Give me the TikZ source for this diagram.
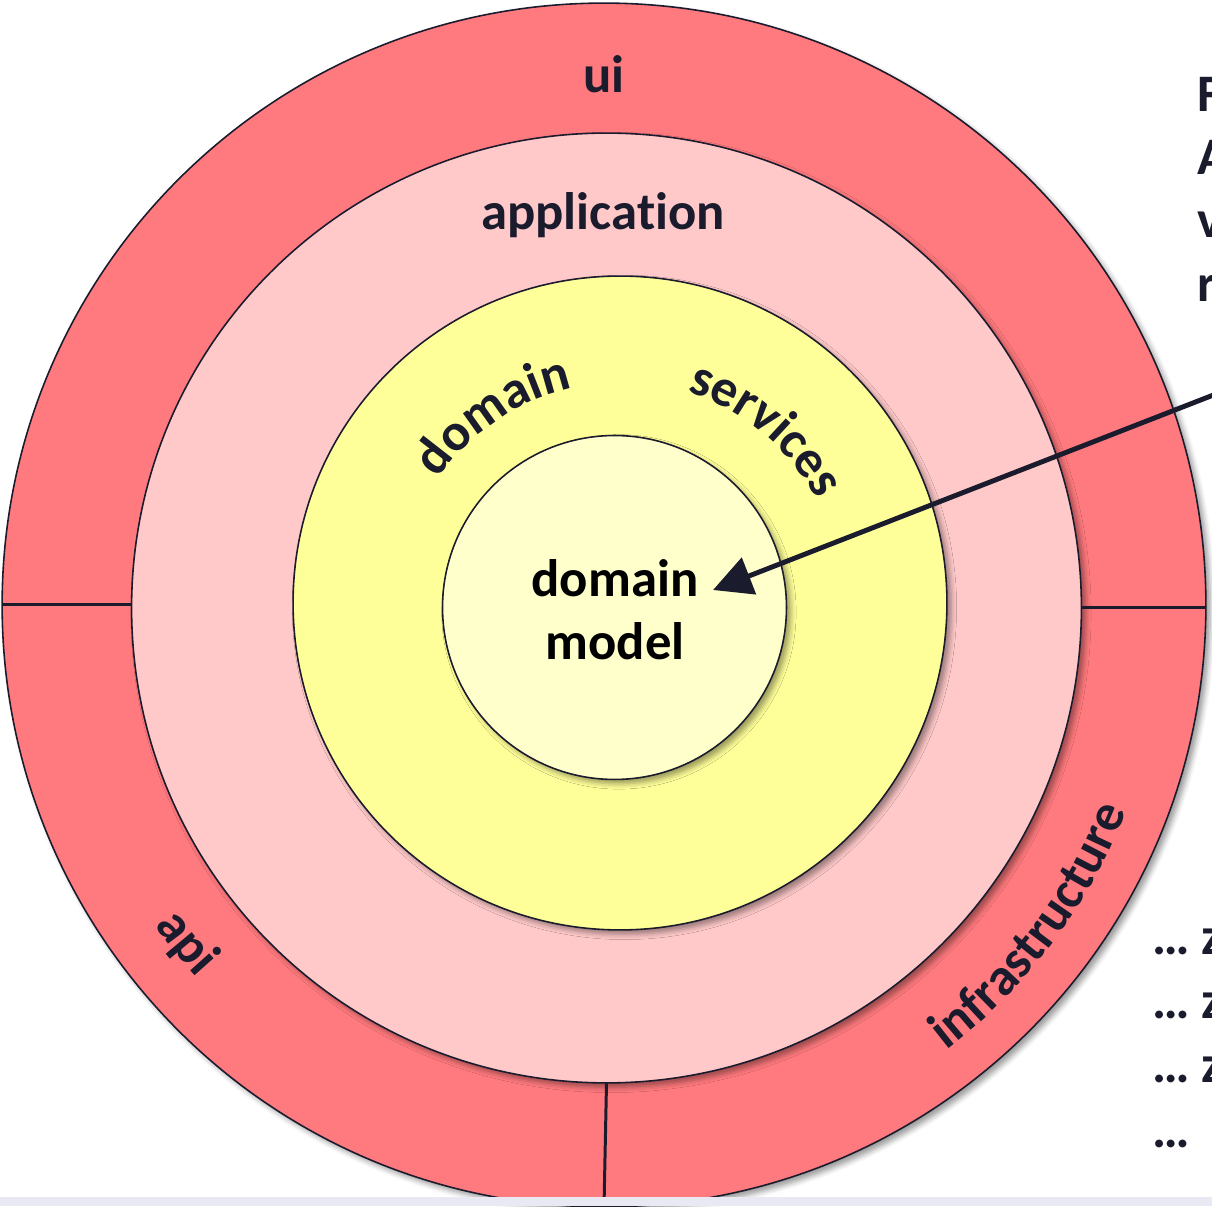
\documentclass[tikz,border=0pt]{standalone}
\usepackage{fontspec}
\setmainfont{Carlito}[Ligatures=NoCommon]
\usetikzlibrary{decorations.text,shadows.blur,arrows.meta}
\definecolor{ink}{RGB}{27,27,46}
\definecolor{layerouter}{RGB}{255,122,126}
\definecolor{layerapp}{RGB}{255,201,201}
\definecolor{layerdomain}{RGB}{255,255,153}
\definecolor{layercore}{RGB}{255,255,204}
\definecolor{pagefoot}{RGB}{233,233,243}
\newcommand{\lblfont}{\bfseries\fontsize{30}{36}\selectfont}

\begin{document}
\begin{tikzpicture}[x=0.02cm,y=0.02cm,
  ring/.style={circle, draw=ink, line width=0.9pt, inner sep=0pt, outer sep=0pt,
    blur shadow={shadow xshift=2.5pt, shadow yshift=-2.5pt, shadow blur radius=3pt, shadow opacity=40}},
  divider/.style={draw=ink, line width=1.7pt},
  lbl/.style={text=ink, font=\lblfont, inner sep=0pt},
  arcword/.style={decorate, decoration={text along path, text align=center, text={|\color{ink}\lblfont|#1}}},
  pointer/.style={draw=ink, line width=2.8pt, -{Triangle[length=22pt,width=22pt]}}
]
\useasboundingbox (0,0) rectangle (1212,1206);

% layers of the onion, outside in
\node[ring, fill=layerouter, minimum size=24.08cm] (outer) at (604,601) {};
\node[ring, fill=layerapp, minimum size=19cm] (app) at (606.5,598) {};

% sectors of the outer ring
\draw[divider] (outer.west) -- (app.west |- outer.west);
\draw[divider] (app.east) -- (outer.east |- app.east);
\draw[divider] (app.south) -- (outer.south);

\node[ring, fill=layerdomain, minimum size=13.08cm] (dom) at (620,603) {};
\node[ring, fill=layercore, minimum size=6.88cm] (core) at (614.5,598.5) {};

% straight labels
\node[lbl, anchor=base] (uilabel) at (604,1113) {ui};
\node[lbl, anchor=base] (applabel) at (603,976) {application};
\node[lbl, text=black, align=center, font=\bfseries\fontsize{30}{35.8}\selectfont] (coretext) at (615,596) {domain\\model};

% curved labels
\path[arcword=domain] (dom.center) ++(150:220) arc[start angle=150, end angle=98, radius=220];
\path[arcword=services] (dom.center) ++(76:222) arc[start angle=76, end angle=24, radius=222];
\path[arcword=api] (outer.center) ++(189:552) arc[start angle=189, end angle=249, radius=552];
\path[arcword=infrastructure] (outer.center) ++(283:562) arc[start angle=283, end angle=363, radius=562];

% pointer into the domain model
\coordinate (tail) at (1216,812);
\coordinate (tip) at (713,616);
\draw[pointer] (tail) -- (tip);

% text running off the right edge
\node[lbl, anchor=base west] (r1) at (1197,1094) {F};
\node[lbl, anchor=base west] (r2) at (1197,1031) {A};
\node[lbl, anchor=base west] (r3) at (1197,968) {v};
\node[lbl, anchor=base west] (r4) at (1197,904) {r};

\node[lbl, anchor=base west] (l1) at (1152,251) {… z};
\node[lbl, anchor=base west] (l2) at (1152,188) {… z};
\node[lbl, anchor=base west] (l3) at (1152,124) {… z};
\node[lbl, anchor=base west] (l4) at (1152,59) {…};

\fill[pagefoot] (0,0) rectangle (1212,9);
\end{tikzpicture}
\end{document}
